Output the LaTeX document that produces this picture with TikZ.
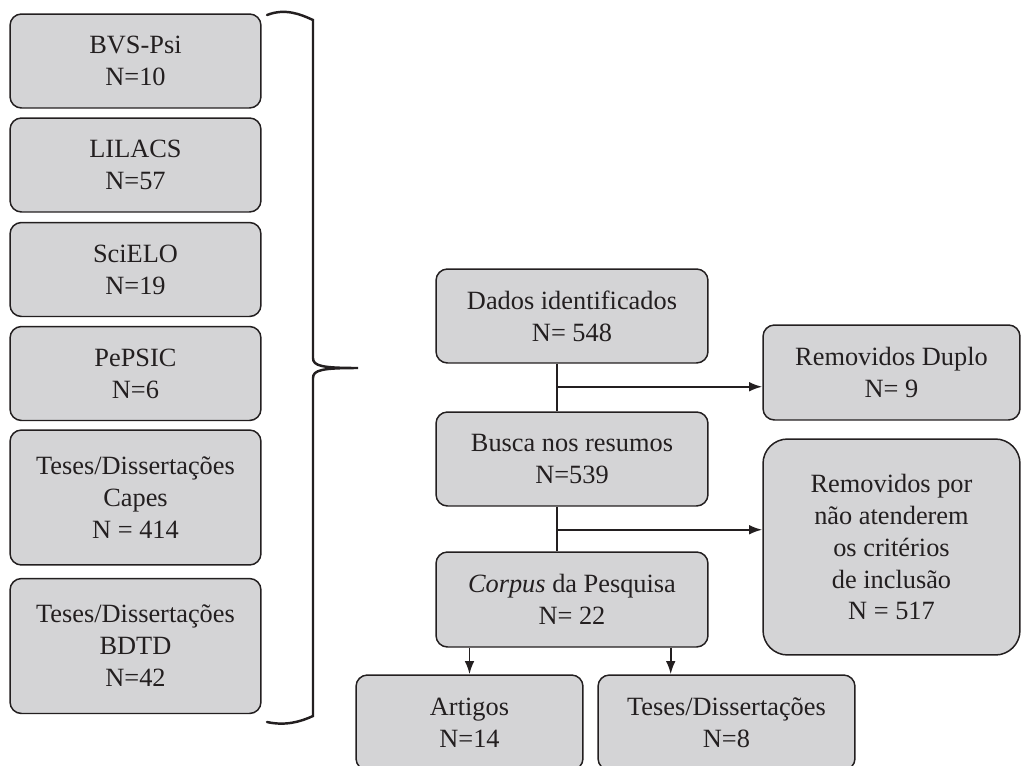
\documentclass[tikz,border=0pt]{standalone}
\usepackage{fontspec}
\setmainfont{Liberation Serif}
\usepackage{tikz}
\usetikzlibrary{arrows.meta, calc}
\definecolor{BoxGray}{RGB}{212,212,214}
\definecolor{InkGray}{RGB}{35,31,32}
\tikzset{box/.style={rectangle, rounded corners=6.5pt, draw=InkGray, line width=.85pt, fill=BoxGray,
    text=InkGray, align=center, inner sep=1pt, font=\fontsize{15}{18.2}\selectfont}}
\tikzset{next/.style={->, >={Latex[length=7.5pt, width=5.5pt]}, line width=1.1pt, draw=InkGray}}
\tikzset{trunk/.style={-, line width=1.1pt, draw=InkGray}}
\newcommand{\colw}{5.02cm}
\newcommand{\boxh}{1.88cm}
\newcommand{\tallh}{2.7cm}
\newcommand{\mainw}{5.44cm}
\newcommand{\sidew}{5.14cm}

\begin{document}
\begin{tikzpicture}[x=0.02cm, y=-0.02cm]
  \useasboundingbox (0,0) rectangle (1022,765);

  % --- bases consultadas ---
  \begin{scope}[every node/.append style={box, minimum width=\colw, minimum height=\boxh}]
    \node (BVS) at (135.5,61) {BVS-Psi\\N=10};
    \node (LILACS) at (135.5,165) {LILACS\\N=57};
    \node (SciELO) at (135.5,269.5) {SciELO\\N=19};
    \node (PePSIC) at (135.5,373.5) {PePSIC\\N=6};
    \node[minimum height=\tallh] (Capes) at (135.5,497.5) {Teses/Dissertações\\Capes\\N = 414};
    \node[minimum height=\tallh] (BDTD) at (135.5,646) {Teses/Dissertações\\BDTD\\N=42};
  \end{scope}

  % --- chave ---
  \draw[line width=1.4pt, InkGray, line cap=round]
    (267,15) .. controls (285,8) and (300,14) .. (313,20) -- (313,358)
    .. controls (313,366) and (322,368) .. (358,368)
    .. controls (322,368) and (313,370) .. (313,378) -- (313,716)
    .. controls (300,722) and (285,726) .. (267,722);

  % --- fluxo ---
  \begin{scope}
    \node[box, minimum width=\mainw, minimum height=\boxh] (Dados) at (572,316) {Dados identificados\\N= 548};
    \node[box, minimum width=\mainw, minimum height=\boxh] (Busca) at (572,459) {Busca nos resumos\\N=539};
    \node[box, minimum width=\mainw, minimum height=1.9cm] (Corpus) at (572,599.5) {\textit{Corpus} da Pesquisa\\N= 22};

    \node[box, minimum width=\sidew, minimum height=1.9cm] (RemDuplo) at (891.5,372.5) {Removidos Duplo\\N= 9};
    \node[box, rounded corners=14pt, minimum width=\sidew, minimum height=4.32cm] (RemPor) at (891.5,547)
      {Removidos por\\não atenderem\\ os critérios\\de inclusão\\N = 517};

    \node[box, minimum width=4.54cm, minimum height=1.9cm] (Artigos) at (469.5,722.5) {Artigos\\N=14};
    \node[box, minimum width=\sidew, minimum height=1.9cm] (Teses) at (726.5,722.5) {Teses/Dissertações\\N=8};

    \coordinate (B1) at ($(Dados.south)+(-15,23)$);
    \coordinate (B2) at ($(Busca.south)+(-15,23)$);
    \coordinate (T2) at ($(Corpus.south east)+(-38,0)$);

    \draw[trunk] (Dados.south -| B1) -- (Busca.north -| B1);
    \draw[next] (B1) -- (B1 -| RemDuplo.west);
    \draw[trunk] (Busca.south -| B2) -- (Corpus.north -| B2);
    \draw[next] (B2) -- (B2 -| RemPor.west);

    \draw[next] (Corpus.south -| Artigos) -- (Artigos);
    \draw[next] (T2) -- (T2 |- Teses.north);
  \end{scope}
\end{tikzpicture}
\end{document}
